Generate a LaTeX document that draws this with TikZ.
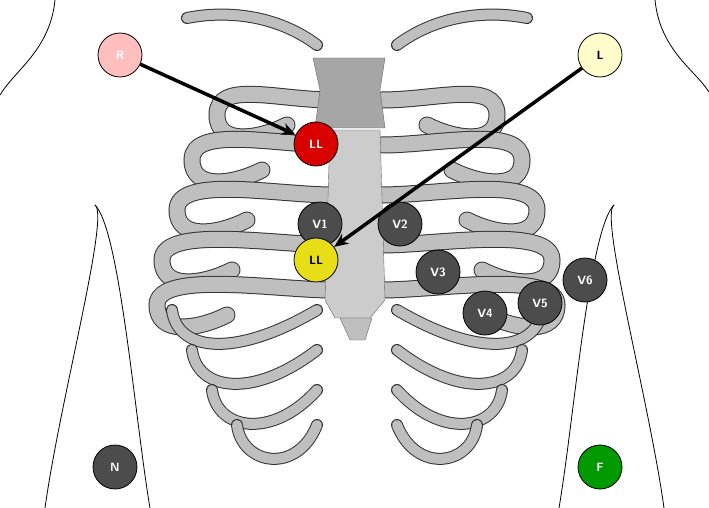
\documentclass[tikz,border=0pt]{standalone}
\usepackage{tikz}
\usetikzlibrary{arrows.meta}
\tikzset{
  lead/.style={circle,draw=black,line width=0.8pt,minimum size=44pt,inner sep=0pt,font=\sffamily\bfseries\large},
  rib/.style={line width=1pt,draw=black!80,double=black!25,double distance=15pt,line cap=round},
  wire/.style={-{Stealth[length=14pt,width=12pt]},line width=3.5pt}
}
\begin{document}
\begin{tikzpicture}[x=1pt,y=-1pt]
\useasboundingbox (0,0) rectangle (709,508);
% body outline
\draw[line width=0.8pt] (55,0) .. controls (50,50) and (15,70) .. (0,95);
\draw[line width=0.8pt] (655,0) .. controls (660,50) and (695,70) .. (709,92);
\draw[line width=0.8pt] (95,205) .. controls (110,215) and (60,400) .. (45,508);
\draw[line width=0.8pt] (95,205) .. controls (120,230) and (135,420) .. (150,508);
\draw[line width=0.8pt] (614,205) .. controls (599,215) and (649,400) .. (664,508);
\draw[line width=0.8pt] (614,205) .. controls (589,230) and (574,420) .. (559,508);
% ribs, both sides
\foreach \s in {1,-1}{
\begin{scope}[shift={(357,0)},xscale=\s]
\draw[rib,double distance=10pt] (-40,45) .. controls (-80,15) and (-130,10) .. (-170,18);
\foreach \y/\w in {100/140,145/165,195/180,245/195,290/200}
  \draw[rib] (-25,\y) .. controls (-80,\y) and (-\w,\y-20) .. (-\w,\y+15)
    .. controls (-\w,\y+45) and (-\w+40,\y+40) .. (-\w+70,\y+25);
\foreach \y/\w in {335/185,375/165,415/145,450/120}
  \draw[rib,double distance=10pt]
    (-\w,\y-25) .. controls (-\w+5,\y+15) and (-\w+60,\y+25) .. (-40,\y-25);
\end{scope}}
% sternum
\filldraw[fill=black!35,draw=black!60] (313,58) -- (385,58) -- (380,90) -- (385,128)
  -- (315,128) -- (320,90) -- cycle;
\filldraw[fill=black!20,draw=black!60] (330,130) -- (380,130) -- (385,300) -- (370,318)
  -- (335,318) -- (325,300) -- cycle;
\filldraw[fill=black!25,draw=black!60] (340,318) -- (372,318) -- (365,340) -- (350,340) -- cycle;
% electrodes
\node[lead,fill=red!25,text=white] (r) at (120,55) {R};
\node[lead,fill=yellow!20] (l) at (600,55) {L};
\node[lead,fill=red!85!black,text=white] (ll1) at (316,144) {LL};
\node[lead,fill=black!70,text=white] (v1) at (320,224) {V1};
\node[lead,fill=black!70,text=white] (v2) at (400,224) {V2};
\node[lead,fill=yellow!90!black] (ll2) at (316,260) {LL};
\node[lead,fill=black!70,text=white] (v3) at (438,272) {V3};
\node[lead,fill=black!70,text=white] (v4) at (485,313) {V4};
\node[lead,fill=black!70,text=white] (v5) at (540,303) {V5};
\node[lead,fill=black!70,text=white] (v6) at (585,280) {V6};
\node[lead,fill=black!70,text=white] (n) at (115,467) {N};
\node[lead,fill=green!60!black,text=white] (f) at (600,467) {F};
% wires
\draw[wire] (r) -- (ll1);
\draw[wire] (l) -- (ll2);
\end{tikzpicture}
\end{document}
